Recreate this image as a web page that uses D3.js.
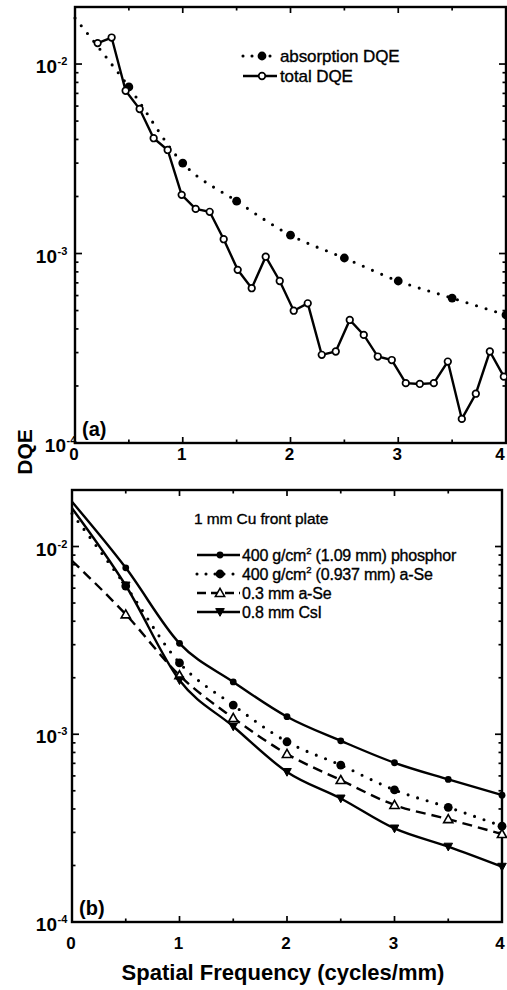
<!DOCTYPE html>
<html><head><meta charset="utf-8">
<script src="https://cdn.jsdelivr.net/npm/d3@7"></script>
<style>body{margin:0;background:#fff}svg{display:block}</style>
</head><body>
<svg id="c" width="507" height="990"></svg>
<script>
// ---------- data ----------
const totalFreq = [0.21,0.34,0.47,0.60,0.73,0.86,0.99,1.12,1.25,1.38,1.51,1.64,1.77,1.90,2.03,2.16,2.29,2.42,2.55,2.68,2.81,2.94,3.07,3.20,3.33,3.46,3.59,3.72,3.85,3.98];
const totalDQE = [0.0129,0.0138,0.00723,0.00579,0.00406,0.00352,0.00204,0.00172,0.00166,0.00119,0.00082,0.000656,0.000962,0.000716,0.000499,0.000546,0.000292,0.000304,0.000446,0.000372,0.000286,0.000274,0.000207,0.000205,0.000207,0.000269,0.000134,0.000182,0.000304,0.000224];
const absFreq = [0,0.5,1,1.5,2,2.5,3,3.5,4];
const absDQE = [0.0175,0.00757,0.00300,0.00189,0.00125,0.000947,0.000716,0.000582,0.000474];

const bFreq = [0,0.5,1,1.5,2,2.5,3,3.5,4];
const phosphor = [0.0173,0.0077,0.00305,0.0019,0.00124,0.000923,0.000705,0.000575,0.000474];
const aSe937 = [0.0150,0.00616,0.0024,0.00143,0.000912,0.000685,0.000505,0.000408,0.000324];
const aSe03 = [0.0084,0.00435,0.00206,0.00122,0.000785,0.00057,0.00042,0.000353,0.000294];
const csi = [0.0160,0.0062,0.00194,0.0011,0.00063,0.000455,0.000315,0.000252,0.000197];

const xTickLabels = ["0","1","2","3","4"];
const yDecades = [-2,-3,-4];
const legendTop = ["absorption DQE","total DQE"];
const legendBottomTitle = "1 mm Cu front plate";
const legendBottom = ["400 g/cm|2| (1.09 mm) phosphor","400 g/cm|2| (0.937 mm) a-Se","0.3 mm a-Se","0.8 mm CsI"];

// ---------- drawing ----------
const FONT = "'Liberation Sans', Arial, Helvetica, sans-serif";
const svg = d3.select("#c");

function panel(o) {
  const x = d3.scaleLinear([0,4],[o.x0,o.x1]);
  const y = d3.scaleLog([1e-4,0.02],[o.yB,o.yT]);
  const g = svg.append("g");
  x.ticks(8).forEach(t => {
    const len = Number.isInteger(t) ? 6 : 3.5;
    g.append("line").attr("x1",x(t)).attr("x2",x(t)).attr("y1",o.yB).attr("y2",o.yB-len)
      .attr("stroke","#000").attr("stroke-width",1.7);
    g.append("line").attr("x1",x(t)).attr("x2",x(t)).attr("y1",o.yT).attr("y2",o.yT+len)
      .attr("stroke","#000").attr("stroke-width",1.7);
  });
  y.ticks().filter(t => t < 0.0199).forEach(t => {
    const m = Math.round(t / Math.pow(10, Math.floor(Math.log10(t)+1e-9)));
    const len = m === 1 ? 7 : 3.5;
    g.append("line").attr("x1",o.x0).attr("x2",o.x0+len).attr("y1",y(t)).attr("y2",y(t))
      .attr("stroke","#000").attr("stroke-width",1.7);
    g.append("line").attr("x1",o.x1).attr("x2",o.x1-len).attr("y1",y(t)).attr("y2",y(t))
      .attr("stroke","#000").attr("stroke-width",1.7);
  });
  g.append("rect").attr("x",o.x0).attr("y",o.yT).attr("width",o.x1-o.x0).attr("height",o.yB-o.yT)
    .attr("fill","none").attr("stroke","#000").attr("stroke-width",2.4);
  xTickLabels.forEach((s,i) => {
    let px = x(+s) - 1;
    if (px > 500) px = 500;
    g.append("text").attr("x",px).attr("y",o.yB+o.xlabDy).attr("text-anchor","middle")
      .attr("font-family",FONT).attr("font-weight","bold").attr("font-size",17).text(s);
  });
  yDecades.forEach(e => {
    const v = Math.pow(10,e);
    const dx = (e === -4 && o.shiftBottomLabel) ? 9 : 0;
    g.append("text").attr("x",57+dx).attr("y",y(v)+9).attr("text-anchor","end")
      .attr("font-family",FONT).attr("font-weight","bold").attr("font-size",19).text("10");
    g.append("text").attr("x",57.5+dx).attr("y",y(v)+1).attr("text-anchor","start")
      .attr("font-family",FONT).attr("font-weight","bold").attr("font-size",11).text("-" + (-e));
  });
  g.append("text").attr("x",o.x0+7).attr("y",o.yB-7).attr("font-family",FONT)
    .attr("font-weight","bold").attr("font-size",20).text(o.tag);
  return {x,y,g};
}

function lineGen(x,y){ return d3.line().x(d=>x(d[0])).y(d=>y(d[1])).curve(d3.curveMonotoneX); }
function straight(x,y){ return d3.line().x(d=>x(d[0])).y(d=>y(d[1])); }

function marker(g, type, cx, cy) {
  if (type === "open") {
    g.append("circle").attr("cx",cx).attr("cy",cy).attr("r",3.3).attr("fill","#fff").attr("stroke","#000").attr("stroke-width",1.7);
  } else if (type === "bigdot") {
    g.append("circle").attr("cx",cx).attr("cy",cy).attr("r",4.4).attr("fill","#000");
  } else if (type === "dot") {
    g.append("circle").attr("cx",cx).attr("cy",cy).attr("r",3.4).attr("fill","#000");
  } else if (type === "tri") {
    const s = 4.6;
    g.append("path").attr("d",`M${cx},${cy-s}L${cx+s},${cy+s*0.75}L${cx-s},${cy+s*0.75}Z`)
      .attr("fill","#fff").attr("stroke","#000").attr("stroke-width",1.6);
  } else if (type === "dtri") {
    const s = 4.3;
    g.append("path").attr("d",`M${cx},${cy+s}L${cx+s},${cy-s*0.8}L${cx-s},${cy-s*0.8}Z`)
      .attr("fill","#000").attr("stroke","#000").attr("stroke-width",1);
  }
}

const styles = {
  solid: {dash:null, w:2.4, cap:"butt"},
  dotted: {dash:"0,10", w:3.1, cap:"round"},
  dashed: {dash:"10,6", w:2.4, cap:"butt"}
};
function styled(p, st) {
  const s = styles[st];
  p.attr("fill","none").attr("stroke","#000").attr("stroke-width",s.w).attr("stroke-linecap",s.cap);
  if (s.dash) p.attr("stroke-dasharray",s.dash);
  return p;
}
function legendText(sel){
  return sel.attr("font-family",FONT).attr("stroke","#000").attr("stroke-width",0.35).attr("fill","#000");
}

// ---------- panel (a) ----------
const A = panel({x0:75,x1:506,yT:7,yB:443,tag:"(a)",xlabDy:17,shiftBottomLabel:true});
{
  const {x,y,g} = A;
  const absPts = absFreq.map((f,i)=>[f,absDQE[i]]);
  styled(g.append("path").attr("d",lineGen(x,y)(absPts)),"dotted");
  absPts.slice(1).forEach(d => marker(g,"bigdot",x(d[0]),y(d[1])));
  const totPts = totalFreq.map((f,i)=>[f,totalDQE[i]]);
  styled(g.append("path").attr("d",straight(x,y)(totPts)),"solid");
  totPts.forEach(d => marker(g,"open",x(d[0]),y(d[1])));
  const lx0 = 243, lx1 = 277, tx = 280;
  const ly = [56,76];
  styled(g.append("line").attr("x1",lx0).attr("x2",lx1).attr("y1",ly[0]).attr("y2",ly[0]),"dotted").attr("stroke-dasharray","0,9");
  marker(g,"bigdot",(lx0+lx1)/2+2,ly[0]);
  styled(g.append("line").attr("x1",lx0).attr("x2",lx1).attr("y1",ly[1]).attr("y2",ly[1]),"solid");
  marker(g,"open",(lx0+lx1)/2+2,ly[1]);
  legendTop.forEach((s,i)=> legendText(g.append("text").attr("x",tx).attr("y",ly[i]+5.5)
    .attr("font-size",17).attr("letter-spacing",-0.1).text(s)));
}
svg.append("text").attr("transform","translate(32,452) rotate(-90)").attr("text-anchor","middle")
  .attr("font-family",FONT).attr("font-weight","bold").attr("font-size",21).text("DQE");

// ---------- panel (b) ----------
const B = panel({x0:72,x1:502,yT:490,yB:922,tag:"(b)",xlabDy:27,shiftBottomLabel:false});
{
  const {x,y,g} = B;
  const series = [
    {vals:phosphor, st:"solid", mk:"dot"},
    {vals:aSe937, st:"dotted", mk:"bigdot"},
    {vals:aSe03, st:"dashed", mk:"tri"},
    {vals:csi, st:"solid", mk:"dtri"}
  ];
  series.forEach(s => {
    const pts = bFreq.map((f,i)=>[f,s.vals[i]]);
    styled(g.append("path").attr("d",lineGen(x,y)(pts)),s.st);
  });
  series.forEach(s => {
    bFreq.forEach((f,i)=>{ if (i>0) marker(g,s.mk,x(f),y(s.vals[i])); });
  });
  legendText(g.append("text").attr("x",194).attr("y",524).attr("font-size",15.5)
    .attr("letter-spacing",-0.1).text(legendBottomTitle));
  const ly = [555,574,593,612];
  series.forEach((s,i)=>{
    const ln = styled(g.append("line").attr("x1",197).attr("x2",240).attr("y1",ly[i]).attr("y2",ly[i]),s.st);
    if (s.st === "dotted") ln.attr("stroke-dasharray","0,9");
    if (s.st === "dashed") ln.attr("stroke-dasharray","9,5");
    marker(g,s.mk,220,ly[i]);
    const parts = legendBottom[i].split("|");
    const t = legendText(g.append("text").attr("x",242).attr("y",ly[i]+5.5)
      .attr("font-size",16).attr("letter-spacing",-0.2));
    t.append("tspan").text(parts[0]);
    if (parts.length > 1) {
      t.append("tspan").attr("dy",-6.5).attr("font-size",9.5).text(parts[1]);
      t.append("tspan").attr("dy",6.5).text(parts[2]);
    }
  });
}
svg.append("text").attr("x",283).attr("y",980).attr("text-anchor","middle")
  .attr("font-family",FONT).attr("font-weight","bold").attr("font-size",22).text("Spatial Frequency (cycles/mm)");
</script>
</body></html>
